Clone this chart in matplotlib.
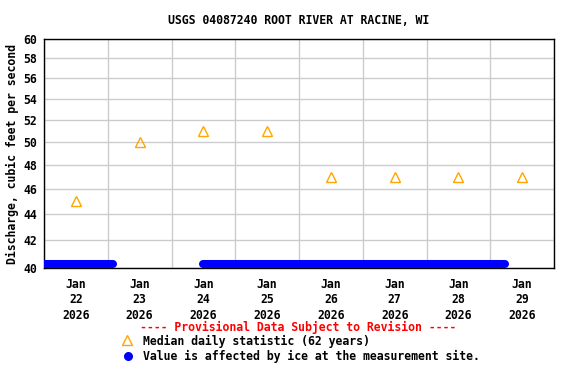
import numpy as np
import pandas as pd
import matplotlib
matplotlib.use("Agg")
import matplotlib.pyplot as plt
import matplotlib.dates as mdates
from matplotlib.ticker import FixedLocator, NullLocator, FixedFormatter
from matplotlib.lines import Line2D

# median daily statistic (plotted at noon)
median_days = pd.to_datetime(["2026-01-22 12:00", "2026-01-23 12:00", "2026-01-24 12:00",
                              "2026-01-25 12:00", "2026-01-26 12:00", "2026-01-27 12:00",
                              "2026-01-28 12:00", "2026-01-29 12:00"])
median_vals = [45, 50, 51, 51, 47, 47, 47, 47]

# ice-affected periods (start, end) shown at the bottom of the plot
ice_start = pd.to_datetime(["2026-01-21 23:00", "2026-01-24 12:00"])
ice_end = pd.to_datetime(["2026-01-23 02:00", "2026-01-29 05:30"])
ice_level = 40.3

yticks = [40, 42, 44, 46, 48, 50, 52, 54, 56, 58, 60]
title = "USGS 04087240 ROOT RIVER AT RACINE, WI"
ylabel = "Discharge, cubic feet per second"

matplotlib.rcParams.update({'font.family': 'DejaVu Sans Mono', 'font.weight': 'bold',
                            'axes.titleweight': 'bold', 'axes.labelweight': 'bold',
                            'font.size': 8.3})
FS = 8.3

fig = plt.figure(figsize=(5.76, 3.84), dpi=100)
ax = fig.add_axes([44/576, 1-268/384, 510/576, 229/384])

ax.set_yscale('log')
ax.set_ylim(40, 60)
ax.yaxis.set_major_locator(FixedLocator(yticks))
ax.yaxis.set_major_formatter(FixedFormatter([str(v) for v in yticks]))
ax.yaxis.set_minor_locator(NullLocator())

ax.set_xlim(pd.Timestamp("2026-01-22 00:00"), pd.Timestamp("2026-01-30 00:00"))
ax.xaxis.set_major_locator(mdates.HourLocator(byhour=[12]))
ax.xaxis.set_major_formatter(mdates.DateFormatter("%b\n%d\n%Y"))
ax.xaxis.set_minor_locator(mdates.DayLocator())

ax.grid(False, which='major', axis='x')
ax.grid(True, which='minor', axis='x', color='#cccccc', linewidth=1.0)
ax.grid(True, which='major', axis='y', color='#cccccc', linewidth=1.0)
ax.set_axisbelow(True)
ax.tick_params(axis='both', which='both', length=0)
ax.tick_params(axis='x', pad=7)
ax.tick_params(axis='y', pad=5)
for lab in ax.get_xticklabels() + ax.get_yticklabels():
    lab.set_fontweight('bold')
for lab in ax.get_xticklabels():
    lab.set_linespacing(1.25)
for s in ax.spines.values():
    s.set_linewidth(1.0)
    s.set_color('black')

for s, e in zip(ice_start, ice_end):
    ax.plot([s, e], [ice_level, ice_level], color='#0000ff', linewidth=5.8,
            solid_capstyle='round', zorder=3)

ax.plot(median_days, median_vals, linestyle='none', marker='^', markersize=7,
        markerfacecolor='none', markeredgecolor='#ffa500', markeredgewidth=1.0,
        zorder=4, clip_on=False)

ax.set_title(title, fontsize=FS, fontweight='bold', pad=11)
ax.set_ylabel(ylabel, fontweight='bold', labelpad=3)

# footer legend
fig.text(298/576, 1-327/384, "---- Provisional Data Subject to Revision ----",
         color='red', ha='center', va='center', fontsize=FS, fontweight='bold')
fig.text(143/576, 1-341/384, "Median daily statistic (62 years)",
         ha='left', va='center', fontsize=FS, fontweight='bold')
fig.text(143/576, 1-356/384, "Value is affected by ice at the measurement site.",
         ha='left', va='center', fontsize=FS, fontweight='bold')
fig.add_artist(Line2D([127/576], [1-340/384], marker='^', markersize=7,
                      markerfacecolor='none', markeredgecolor='#ffa500',
                      markeredgewidth=1.0, transform=fig.transFigure))
fig.add_artist(Line2D([128/576], [1-356/384], marker='o', markersize=5.5,
                      color='#0000ff', transform=fig.transFigure))

fig.savefig("out.png", dpi=100)
